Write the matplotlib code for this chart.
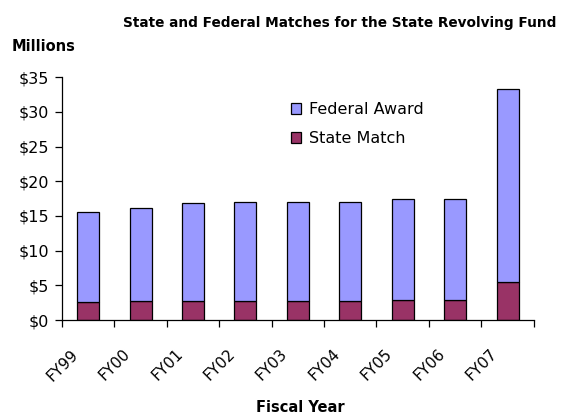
import numpy as np
import matplotlib
matplotlib.use("Agg")
import matplotlib.pyplot as plt
import matplotlib.transforms as mtransforms
from matplotlib.ticker import FuncFormatter

years = ["FY99", "FY00", "FY01", "FY02", "FY03", "FY04", "FY05", "FY06", "FY07"]
state_match = [2.6, 2.75, 2.75, 2.75, 2.75, 2.75, 2.95, 2.95, 5.5]
total = [15.55, 16.2, 16.8, 17.0, 17.0, 17.0, 17.5, 17.5, 33.3]
federal_award = [t - s for t, s in zip(total, state_match)]

plt.rcParams["font.family"] = ["DejaVu Sans"]

fig = plt.figure(figsize=(5.84, 4.19), dpi=100)
ax = fig.add_axes([0.106, 0.236, 0.808, 0.580])

x = np.arange(len(years))
ax.bar(x, state_match, width=0.42, color="#993366", edgecolor="black",
       linewidth=0.9, label="State Match")
ax.bar(x, federal_award, width=0.42, bottom=state_match, color="#9999FF",
       edgecolor="black", linewidth=0.9, label="Federal Award")

ax.set_xlim(-0.5, len(years) - 0.5)
ax.set_ylim(0, 35)
ax.set_yticks(np.arange(0, 36, 5))
ax.yaxis.set_major_formatter(FuncFormatter(lambda v, p: f"${v:.0f}"))
ax.tick_params(axis="y", labelsize=11.5, length=5, width=0.9, pad=4)

ax.set_xticks(np.arange(-0.5, len(years), 1.0))
ax.set_xticklabels([])
ax.set_xticks(x, minor=True)
ax.set_xticklabels(years, minor=True, rotation=45, ha="right",
                   rotation_mode="anchor", fontsize=11)
ax.tick_params(axis="x", which="major", length=5, width=0.9)
ax.tick_params(axis="x", which="minor", length=0, pad=19)
shift = mtransforms.ScaledTranslation(-0.18, 0, fig.dpi_scale_trans)
for lab in ax.get_xticklabels(minor=True):
    lab.set_transform(lab.get_transform() + shift)

for s in ["top", "right"]:
    ax.spines[s].set_visible(False)
for s in ["left", "bottom"]:
    ax.spines[s].set_linewidth(0.9)

handles, labels = ax.get_legend_handles_labels()
ax.legend(handles[::-1], labels[::-1], loc="upper left",
          bbox_to_anchor=(0.455, 0.955), frameon=False, fontsize=11.5,
          handlelength=0.65, handleheight=0.65, handletextpad=0.5,
          labelspacing=0.85)

fig.text(0.952, 0.945, "State and Federal Matches for the State Revolving Fund",
         ha="right", va="center", fontsize=9.8, fontweight="bold")
fig.text(0.02, 0.888, "Millions", ha="left", va="center", fontsize=10.5,
         fontweight="bold")
fig.text(0.514, 0.028, "Fiscal Year", ha="center", va="center", fontsize=10.5,
         fontweight="bold")

fig.savefig("out.png", dpi=100)
